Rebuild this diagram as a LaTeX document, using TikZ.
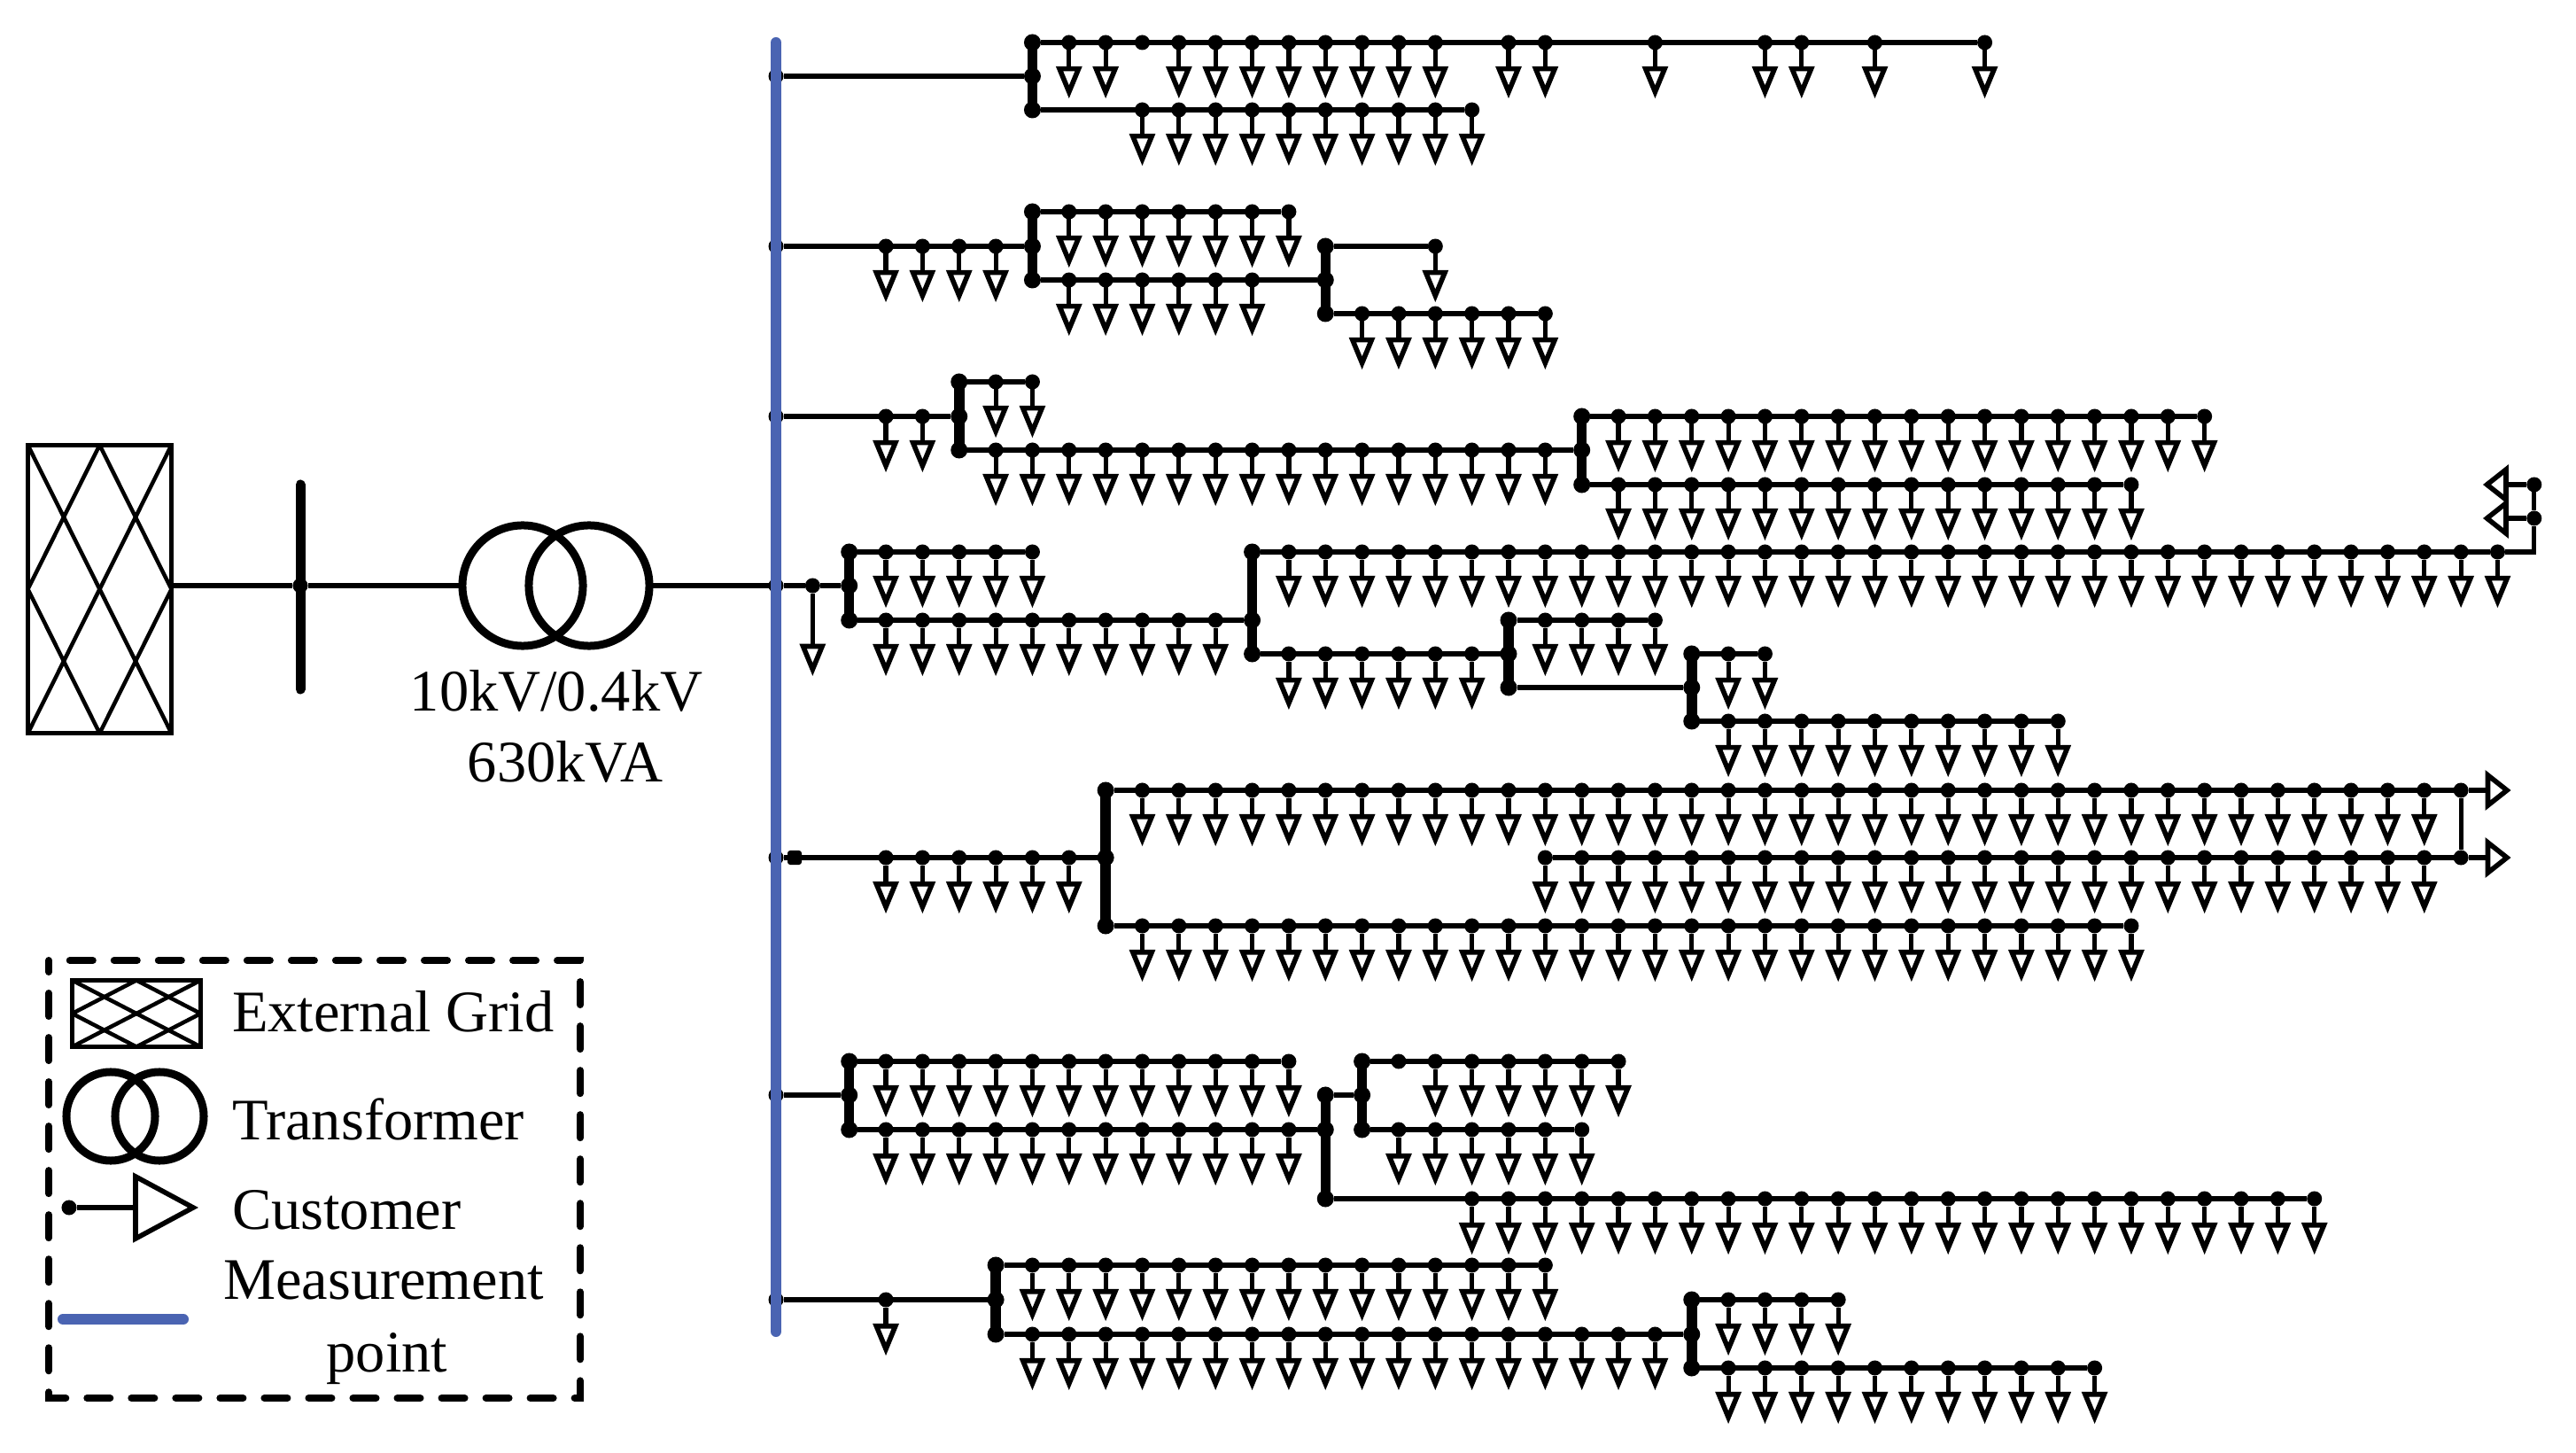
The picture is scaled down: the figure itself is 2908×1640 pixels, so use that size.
\documentclass[tikz,border=0pt]{standalone}
\usepackage{fontspec}
\setmainfont{Liberation Serif}
\usepackage{tikz}
\usetikzlibrary{shapes.geometric, positioning}
\definecolor{measblue}{RGB}{74,100,178}

\newcommand{\colx}[1]{876+41.35*#1}
% Customers hanging below one row: name, y, columns
\newcommand{\custrow}[3]{\foreach \col in {#3} {
    \node[busdot] (#1\col) at ({\colx{\col}},#2) {};
    \node[custdown] (#1\col t) at ({\colx{\col}},#2+29.7) {};
    \draw[feeder] (#1\col) -- (#1\col t.lower side);
}}
% Thick bar with three dots: name, column, top y, middle y, bottom y
\newcommand{\thickbar}[5]{
    \node[bardot] (#1t) at ({\colx{#2}},#3) {};
    \node[bardot] (#1m) at ({\colx{#2}},#4) {};
    \node[bardot] (#1b) at ({\colx{#2}},#5) {};
    \draw[busbar] (#1t.center) -- (#1b.center);
}

\begin{document}
\begin{tikzpicture}[
    x=0.01cm, y=-0.01cm,
    every node/.style={inner sep=0pt, outer sep=0pt},
    lbl/.style={font=\fontsize{18.9}{23}\selectfont},
    feeder/.style={line width=0.52mm},
    busbar/.style={line width=1.15mm},
    busdot/.style={circle, fill=black, minimum size=1.7mm},
    bardot/.style={circle, fill=black, minimum size=1.9mm},
    custdown/.style={isosceles triangle, isosceles triangle stretches, shape border rotate=-90, anchor=lower side, draw, fill=white, line width=0.56mm, minimum width=2.15mm, minimum height=2.6mm},
    custside/.style={isosceles triangle, isosceles triangle stretches, draw, fill=white, line width=0.56mm, anchor=lower side, minimum width=3.4mm, minimum height=2.15mm},
    gridbox/.style={rectangle, draw, line width=0.5mm, path picture={
        \draw[line width=0.45mm] (path picture bounding box.north west) -- (path picture bounding box.south east);
        \draw[line width=0.45mm] (path picture bounding box.north east) -- (path picture bounding box.south west);
        \draw[line width=0.45mm] (path picture bounding box.north) -- (path picture bounding box.east) -- (path picture bounding box.south) -- (path picture bounding box.west) -- cycle;}},
    xfmr/.style={circle, draw, line width=0.9mm},
    measbus/.style={line width=1.2mm, color=measblue, line cap=round},
    legendframe/.style={line width=0.8mm, line cap=round, dash pattern=on 2.6mm off 2.4mm, dash phase=1.3mm}
]
\useasboundingbox (0,0) rectangle (2908,1640);

% Source side
\node[gridbox, minimum width=1.62cm, minimum height=3.25cm] (extgrid) at (112.5,665) {};
\coordinate (mvtop) at (339,547);
\coordinate (mvbot) at (339,778);
\node[busdot] (mvdot) at (339,661) {};
\draw[line width=1.1mm, line cap=round] (mvtop) -- (mvbot);
\node[xfmr, minimum size=1.36cm] (xfmrl) at (590,661) {};
\node[xfmr, minimum size=1.36cm] (xfmrr) at (665,661) {};
\node[lbl, anchor=base] (xfmrvolt) at (628,803) {10kV/0.4kV};
\node[lbl, anchor=base] (xfmrsize) at (638,883) {630kVA};

\node[busdot] (mb4) at (876,661) {};
\draw[feeder] (extgrid.east |- mvdot) -- (mvdot);
\draw[feeder] (mvdot) -- (xfmrl);
\draw[feeder] (xfmrr) -- (mb4);

% Feeder one
\node[busdot] (mb1) at (876,86) {};
\thickbar{ja}{7}{48}{86}{124}
\custrow{ra}{48}{8,9,11,12,13,14,15,16,17,18,20,21,24,27,28,30,33}
\node[busdot] (ra10) at ({\colx{10}},48) {};
\custrow{rb}{124}{10,...,19}
\draw[feeder] (mb1) -- (jam);
\draw[feeder] (jat) -- (ra33);
\draw[feeder] (jab) -- (rb19);

% Feeder two
\node[busdot] (mb2) at (876,278) {};
\custrow{rc}{278}{3,...,6}
\thickbar{jb}{7}{239}{278}{316}
\custrow{rd}{239}{8,...,14}
\custrow{re}{316}{8,...,13}
\thickbar{jc}{15}{278}{316}{354}
\custrow{rf}{278}{18}
\custrow{rg}{354}{16,...,21}
\draw[feeder] (mb2) -- (jbm);
\draw[feeder] (jbt) -- (rd14);
\draw[feeder] (jbb) -- (jcm);
\draw[feeder] (jct) -- (rf18);
\draw[feeder] (jcb) -- (rg21);

% Feeder three
\node[busdot] (mb3) at (876,470) {};
\custrow{rh}{470}{3,4}
\thickbar{jd}{5}{431}{470}{508}
\custrow{ri}{431}{6,7}
\custrow{rj}{508}{6,...,21}
\thickbar{je}{22}{470}{508}{547}
\custrow{rk}{470}{23,...,39}
\custrow{rl}{547}{23,...,37}
\draw[feeder] (mb3) -- (jdm);
\draw[feeder] (jdt) -- (ri7);
\draw[feeder] (jdb) -- (jem);
\draw[feeder] (jet) -- (rk39);
\draw[feeder] (jeb) -- (rl37);

% Feeder four
\node[busdot] (rm1) at ({\colx{1}},661) {};
\node[custdown] (rm1t) at ({\colx{1}},729.5) {};
\thickbar{jf}{2}{623}{661}{700}
\custrow{rn}{623}{3,...,7}
\custrow{ro}{700}{3,...,12}
\thickbar{jg}{13}{623}{700}{738}
\custrow{rp}{623}{14,...,47}
\custrow{rq}{738}{14,...,19}
\thickbar{jh}{20}{700}{738}{776}
\custrow{rr}{700}{21,...,24}
\thickbar{ji}{25}{738}{776}{814}
\custrow{rs}{738}{26,27}
\custrow{rt}{814}{26,...,35}
\node[busdot] (ru1) at ({\colx{48}},585) {};
\node[busdot] (ru2) at ({\colx{48}},547) {};
\node[custside, shape border rotate=180] (ru1t) at (2829,585) {};
\node[custside, shape border rotate=180] (ru2t) at (2829,547) {};
\coordinate (rucorner) at ({\colx{48}},623);
\draw[feeder] (mb4) -- (rm1);
\draw[feeder] (rm1) -- (rm1t.lower side);
\draw[feeder] (rm1) -- (jfm);
\draw[feeder] (jft) -- (rn7);
\draw[feeder] (jfb) -- (jgm);
\draw[feeder] (jgt) -- (rp47);
\draw[feeder, line join=miter] (rp47) -- (rucorner) -- (ru1);
\draw[feeder] (ru1) -- (ru2);
\draw[feeder] (ru1) -- (ru1t.lower side);
\draw[feeder] (ru2) -- (ru2t.lower side);
\draw[feeder] (jgb) -- (jhm);
\draw[feeder] (jht) -- (rr24);
\draw[feeder] (jhb) -- (jim);
\draw[feeder] (jit) -- (rs27);
\draw[feeder] (jib) -- (rt35);

% Feeder five
\node[busdot] (mb5) at (876,968) {};
\node[rectangle, fill=black, rounded corners=0.3mm, minimum size=1.6mm] (meter) at (897,968) {};
\custrow{rv}{968}{3,...,8}
\thickbar{jj}{9}{892}{968}{1045}
\custrow{rw}{892}{10,...,45}
\custrow{rx}{968}{21,...,45}
\custrow{ry}{1045}{10,...,37}
\node[busdot] (rz1) at ({\colx{46}},892) {};
\node[busdot] (rz2) at ({\colx{46}},968) {};
\node[custside] (rz1t) at (2808.5,892) {};
\node[custside] (rz2t) at (2808.5,968) {};
\draw[feeder] (mb5) -- (jjm);
\draw[feeder] (jjt) -- (rz1);
\draw[feeder] (rx21) -- (rz2);
\draw[feeder] (jjb) -- (ry37);
\draw[feeder] (rz1) -- (rz2);
\draw[feeder] (rz1) -- (rz1t.lower side);
\draw[feeder] (rz2) -- (rz2t.lower side);

% Feeder six
\node[busdot] (mb6) at (876,1236) {};
\thickbar{jk}{2}{1198}{1236}{1275}
\custrow{sa}{1198}{3,...,14}
\custrow{sb}{1275}{3,...,14}
\thickbar{jl}{15}{1236}{1275}{1353}
\thickbar{jm}{16}{1198}{1236}{1275}
\node[busdot] (sc17) at ({\colx{17}},1198) {};
\custrow{sc}{1198}{18,...,23}
\custrow{sd}{1275}{17,...,22}
\custrow{se}{1353}{19,...,42}
\draw[feeder] (mb6) -- (jkm);
\draw[feeder] (jkt) -- (sa14);
\draw[feeder] (jkb) -- (jlm);
\draw[feeder] (jlt) -- (jmm);
\draw[feeder] (jmt) -- (sc23);
\draw[feeder] (jmb) -- (sd22);
\draw[feeder] (jlb) -- (se42);

% Feeder seven
\node[busdot] (mb7) at (876,1467) {};
\custrow{sf}{1467}{3}
\thickbar{jn}{6}{1428}{1467}{1506}
\custrow{sg}{1428}{7,...,21}
\custrow{sh}{1506}{7,...,24}
\thickbar{jo}{25}{1467}{1506}{1544}
\custrow{si}{1467}{26,...,29}
\custrow{sj}{1544}{26,...,36}
\draw[feeder] (mb7) -- (jnm);
\draw[feeder] (jnt) -- (sg21);
\draw[feeder] (jnb) -- (jom);
\draw[feeder] (jot) -- (si29);
\draw[feeder] (job) -- (sj36);

% Measurement bus goes over the dots
\coordinate (mtop) at (876,48);
\coordinate (mbot) at (876,1503);
\draw[measbus] (mtop) -- (mbot);

% Legend
\draw[legendframe] (55,1084) rectangle (655,1578);
\node[gridbox, minimum width=1.45cm, minimum height=0.75cm] (lggrid) at (154,1144) {};
\node[lbl, anchor=base west] (lggridtext) at (262,1164) {External Grid};
\node[xfmr, minimum size=1cm] (lgxl) at (125,1260) {};
\node[xfmr, minimum size=1cm] (lgxr) at (180,1260) {};
\node[lbl, anchor=base west] (lgxtext) at (262,1286) {Transformer};
\node[busdot] (lgdot) at (78,1363) {};
\node[custside, minimum width=0.7cm, minimum height=0.65cm] (lgtri) at (153,1363) {};
\draw[feeder] (lgdot) -- (lgtri.lower side);
\node[lbl, anchor=base west] (lgctext) at (262,1387) {Customer};
\coordinate (lgma) at (71,1489);
\coordinate (lgmb) at (207,1489);
\draw[measbus] (lgma) -- (lgmb);
\node[lbl, anchor=base] (lgmtext) at (433,1466) {Measurement};
\node[lbl, anchor=base] (lgptext) at (437,1548) {point};

\end{tikzpicture}
\end{document}
